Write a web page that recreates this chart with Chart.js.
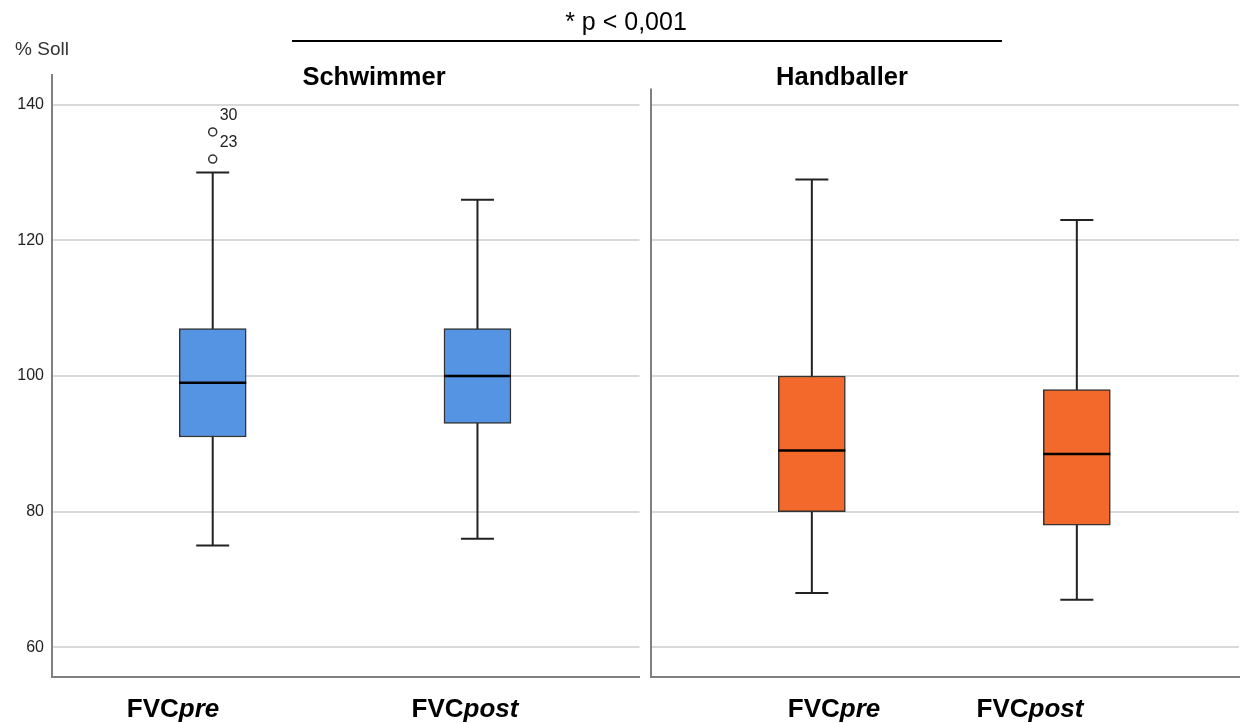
<!DOCTYPE html>
<html>
<head>
<meta charset="utf-8">
<script src="https://cdn.jsdelivr.net/npm/chart.js@4"></script>
<style>
    body { margin: 0; background: #fff; font-family: Arial, "Liberation Sans", sans-serif; }
    #wrap { position: relative; width: 1241px; height: 723px; overflow: hidden; }
    canvas { position: absolute; top: 0; }
    .lbl { position: absolute; transform: translate(-50%, -50%); white-space: nowrap; color: #000; }
    .title { font-weight: bold; font-size: 25.5px; }
    .cat { font-weight: bold; font-size: 26px; }
    .cat i { font-style: italic; }
</style>
</head>
<body>
<div id="wrap">
    <canvas id="swim-chart" width="645" height="723" style="left:0"></canvas>
    <canvas id="hand-chart" width="595" height="723" style="left:646px"></canvas>

    <div class="lbl" style="left:626px; top:21px; font-size:25px;">* p &lt; 0,001</div>
    <div style="position:absolute; left:292px; top:40px; width:710px; height:0; border-top:2.5px solid #000;"></div>
    <div class="lbl" style="left:42px; top:49px; font-size:19px; color:#333;">% Soll</div>

    <div class="lbl title" style="left:374px; top:76px;">Schwimmer</div>
    <div class="lbl title" style="left:842px; top:76px;">Handballer</div>

    <div class="lbl cat" style="left:173px; top:708px;">FVC<i>pre</i></div>
    <div class="lbl cat" style="left:465px; top:708px;">FVC<i>post</i></div>
    <div class="lbl cat" style="left:834px; top:708px;">FVC<i>pre</i></div>
    <div class="lbl cat" style="left:1030px; top:708px;">FVC<i>post</i></div>
</div>

<script>
// groups and measures (FVC pre / post)
const groups = ['Schwimmer', 'Handballer'];
const measures = ['FVCpre', 'FVCpost'];
const yTicks = [60, 80, 100, 120, 140];

// Schwimmer box stats
const swimMin = [75, 76];
const swimQ1 = [91, 93];
const swimMedian = [99, 100];
const swimQ3 = [107, 107];
const swimMax = [130, 126];
const swimOutliers = [136, 132];
const swimOutlierIds = ['30', '23'];

// Handballer box stats
const handMin = [68, 67];
const handQ1 = [80, 78];
const handMedian = [89, 88.5];
const handQ3 = [100, 98];
const handMax = [129, 123];

// draws whiskers behind the boxes, medians + outlier ids on top
const boxPlugin = {
    id: 'boxWhiskers',
    beforeDatasetsDraw(chart, args, opts) {
        const { ctx } = chart;
        const x = chart.scales.x, y = chart.scales.y;
        ctx.save();
        ctx.strokeStyle = '#222';
        ctx.lineWidth = 2;
        opts.min.forEach((lo, i) => {
            const px = x.getPixelForValue(i + 1);
            const top = y.getPixelForValue(opts.max[i]);
            const bot = y.getPixelForValue(lo);
            ctx.beginPath();
            ctx.moveTo(px, top); ctx.lineTo(px, bot);
            ctx.moveTo(px - 16.5, top); ctx.lineTo(px + 16.5, top);
            ctx.moveTo(px - 16.5, bot); ctx.lineTo(px + 16.5, bot);
            ctx.stroke();
        });
        ctx.restore();
    },
    afterDatasetsDraw(chart, args, opts) {
        const { ctx } = chart;
        const x = chart.scales.x, y = chart.scales.y;
        ctx.save();
        ctx.strokeStyle = '#000';
        ctx.lineWidth = 2.5;
        opts.median.forEach((m, i) => {
            const px = x.getPixelForValue(i + 1);
            const py = y.getPixelForValue(m);
            ctx.beginPath();
            ctx.moveTo(px - 33.5, py); ctx.lineTo(px + 33.5, py);
            ctx.stroke();
        });
        if (opts.outliers) {
            ctx.fillStyle = '#222';
            ctx.font = '16px Arial, "Liberation Sans", sans-serif';
            ctx.textBaseline = 'middle';
            opts.outliers.forEach((v, i) => {
                const px = x.getPixelForValue(1);
                const py = y.getPixelForValue(v);
                ctx.fillText(opts.outlierIds[i], px + 7, py - 16);
            });
        }
        if (opts.panelTop) {
            // left frame line of the second panel
            ctx.strokeStyle = '#808080';
            ctx.lineWidth = 2;
            ctx.beginPath();
            ctx.moveTo(chart.chartArea.left, y.getPixelForValue(opts.panelTop));
            ctx.lineTo(chart.chartArea.left, chart.chartArea.bottom);
            ctx.stroke();
        }
        ctx.restore();
    }
};

function makeConfig(q1, q3, color, extra, showLabels) {
    const datasets = [{
        type: 'bar',
        label: 'box',
        data: measures.map((m, i) => ({ x: i + 1, y: [q1[i], q3[i]] })),
        backgroundColor: color,
        borderColor: '#333',
        borderWidth: 1.5,
        borderSkipped: false,
        barThickness: 67,
        order: 2
    }];
    if (extra.outliers) {
        datasets.push({
            type: 'scatter',
            label: 'outliers',
            data: extra.outliers.map(v => ({ x: 1, y: v })),
            pointStyle: 'circle',
            pointRadius: 4,
            backgroundColor: '#fff',
            borderColor: '#333',
            borderWidth: 1.5,
            order: 1
        });
    }
    return {
        type: 'bar',
        data: { datasets },
        plugins: [boxPlugin],
        options: {
            responsive: false,
            animation: false,
            layout: { padding: { top: 75, bottom: 46, left: showLabels ? 0 : 5, right: showLabels ? 5 : 2 } },
            plugins: {
                legend: { display: false },
                tooltip: { enabled: false },
                boxWhiskers: extra
            },
            scales: {
                x: {
                    type: 'linear',
                    offset: false,
                    min: 0.393,
                    max: 2.612,
                    ticks: { display: false },
                    grid: { display: false, drawTicks: false },
                    border: { display: true, color: '#808080', width: 2 }
                },
                y: {
                    min: 55.6,
                    max: 144.4,
                    afterBuildTicks: axis => { axis.ticks = yTicks.map(v => ({ value: v })); },
                    afterFit: axis => { axis.width = showLabels ? 52 : 0; },
                    ticks: {
                        display: showLabels,
                        padding: 8,
                        color: '#222',
                        font: { family: 'Arial, "Liberation Sans", sans-serif', size: 16 }
                    },
                    grid: { color: '#d9d9d9', lineWidth: 2, drawTicks: false },
                    border: { display: showLabels, color: '#808080', width: 2 }
                }
            }
        }
    };
}

new Chart(document.getElementById('swim-chart'), makeConfig(swimQ1, swimQ3, '#5594e2', {
    min: swimMin, max: swimMax, median: swimMedian,
    outliers: swimOutliers, outlierIds: swimOutlierIds
}, true));

new Chart(document.getElementById('hand-chart'), makeConfig(handQ1, handQ3, '#f2692b', {
    min: handMin, max: handMax, median: handMedian, panelTop: 142.4
}, false));
</script>
</body>
</html>
